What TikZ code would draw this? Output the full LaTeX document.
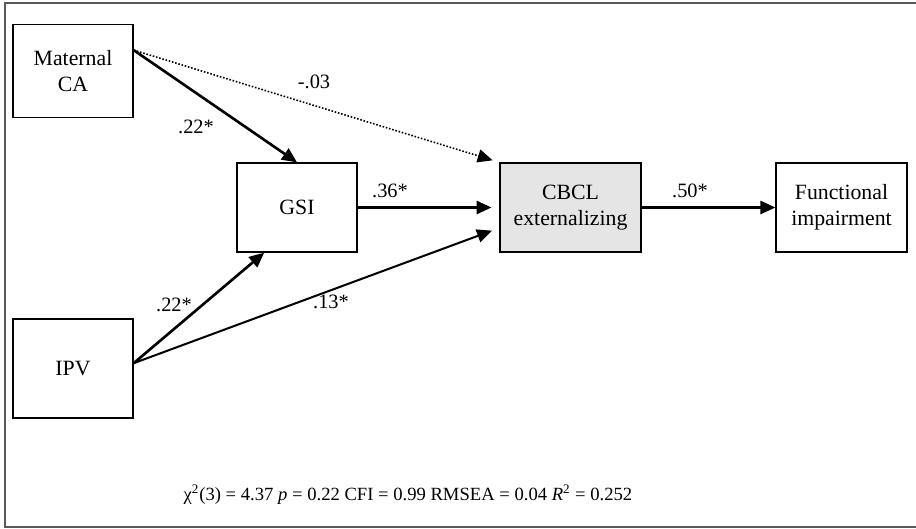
\documentclass[tikz,border=0pt]{standalone}
\usepackage{fontspec}
\setmainfont{Liberation Serif}
\usepackage{tikz}
\usetikzlibrary{calc}
\usetikzlibrary{positioning}
\usetikzlibrary{arrows.meta}

\tikzset{
  var/.style={draw, line width=0.75pt, align=center, inner sep=0pt,
    font=\fontsize{12.4}{14.6}\selectfont},
  path/.style={-{Triangle[length=8.5pt,width=7.5pt]}},
  strong/.style={path, line width=1.5pt},
  weak/.style={path, line width=1.15pt},
  coef/.style={font=\fontsize{11.6}{13.8}\selectfont, inner sep=0pt}
}

\begin{document}
\begin{tikzpicture}[x=0.02cm, y=-0.02cm]
    \useasboundingbox (0,0) rectangle (916,528);
    \draw[gray!70!black, line width=0.6pt] (5,3) rectangle (940,527);

    % variables
    \node[var, minimum width=2.4cm, minimum height=1.86cm] (mat) at (73,71) {Maternal\\CA};
    \node[var, minimum width=2.4cm, minimum height=1.98cm] (ipv) at (73,368.5) {IPV};
    \node[var, minimum width=2.4cm, minimum height=1.78cm] (gsi) at (297,207.5) {GSI};
    \node[var, fill=gray!20, minimum width=2.82cm, minimum height=1.78cm] (cbcl) at (570.5,207.5) {CBCL\\externalizing};
    \node[var, minimum width=2.62cm, minimum height=1.78cm] (func) at (841.5,207.5) {Functional\\impairment};

    % paths
    \draw[strong] (mat.19) -- (gsi.north);
    \draw[path, line width=0.9pt, dash pattern=on 0.9pt off 1pt, shorten >=4pt] (mat.19) -- (cbcl.north west);
    \draw[strong] (ipv.5) -- (gsi.234);
    \draw[weak, shorten >=4.5pt] (ipv.5) -- (cbcl.196);
    \draw[strong, shorten >=4.5pt] (gsi.east) -- (cbcl.west);
    \draw[weak] (cbcl.east) -- (func.west);

    % coefficients
    \node[coef] (c1) at (196,127) {.22*};
    \node[coef] (c2) at (314,82) {-.03};
    \node[coef] (c3) at (390,191) {.36*};
    \node[coef] (c4) at (690,191) {.50*};
    \node[coef] (c5) at (174,305) {.22*};
    \node[coef] (c6) at (331,302) {.13*};

    \node[coef, font=\fontsize{10.6}{12.5}\selectfont] (fit) at (408,495) {χ\textsuperscript{2}(3) = 4.37 \textit{p} = 0.22 CFI = 0.99 RMSEA = 0.04 \textit{R}\textsuperscript{2} = 0.252};
\end{tikzpicture}
\end{document}
